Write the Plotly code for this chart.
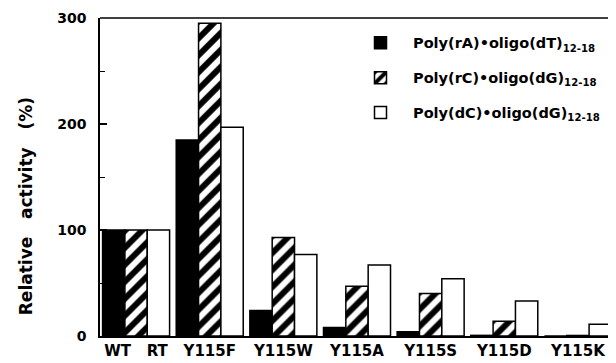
import plotly.graph_objects as go

categories = ["WT\u00a0\u00a0\u00a0RT", "Y115F", "Y115W", "Y115A", "Y115S", "Y115D", "Y115K"]
poly_rA_dT = [100, 185, 24, 8, 4, 0.6, 0]
poly_rC_dG = [100, 295, 93, 47, 40, 14, 0.5]
poly_dC_dG = [100, 197, 77, 67, 54, 33, 11]
series_names = [
    "Poly(rA)•oligo(dT)<sub>12-18</sub>",
    "Poly(rC)•oligo(dG)<sub>12-18</sub>",
    "Poly(dC)•oligo(dG)<sub>12-18</sub>",
]
y_ticks = [0, 100, 200, 300]
y_title = "Relative\u00a0\u00a0\u00a0activity\u00a0\u00a0\u00a0(%)"

FONT = "DejaVu Sans"
# page body has an 8px offset; size the figure so the window shows the full layout
OFF = 8
W, H = 616 - OFF, 363 - OFF
ML, MR, MT, MB = 100 - OFF, 2, 15 - OFF, 27
PW, PH = W - ML - MR, H - MT - MB

fig = go.Figure()
x = list(range(len(categories)))
fig.add_trace(go.Bar(
    x=x, y=poly_rA_dT, name=series_names[0], legendgroup="a",
    marker=dict(color="black", line=dict(color="black", width=1.5)),
))
fig.add_trace(go.Bar(
    x=x, y=poly_rC_dG, name=series_names[1], legendgroup="b",
    marker=dict(color="white", line=dict(color="black", width=1.5),
                pattern=dict(shape="/", fgcolor="black", bgcolor="white",
                             size=12, solidity=0.5, fillmode="replace")),
))
fig.add_trace(go.Bar(
    x=x, y=poly_dC_dG, name=series_names[2], legendgroup="c",
    marker=dict(color="white", line=dict(color="black", width=1.5)),
))

fig.update_layout(
    width=W, height=H,
    margin=dict(l=ML, r=MR, t=MT, b=MB),
    paper_bgcolor="white", plot_bgcolor="white",
    barmode="group", bargap=0.09, bargroupgap=0,
    font=dict(family=FONT, size=14, color="black", weight="bold"),
    showlegend=True,
    legend=dict(
        x=(348 - OFF - ML) / PW, y=1 - (24 - OFF - MT) / PH,
        xanchor="left", yanchor="top",
        bgcolor="rgba(0,0,0,0)", tracegroupgap=13,
        traceorder="grouped", itemwidth=55,
        font=dict(family=FONT, size=14.5, color="black", weight="bold"),
    ),
    xaxis=dict(
        tickmode="array", tickvals=x, ticktext=categories,
        range=[-0.49, 6.49], showline=True, linecolor="black", linewidth=1.5,
        ticks="", showgrid=False, zeroline=False,
        tickfont=dict(family=FONT, size=15, weight="bold"),
    ),
    yaxis=dict(
        range=[0, 300], tickvals=y_ticks, showline=True, linecolor="black",
        linewidth=1.5, ticks="inside", ticklen=7, tickwidth=1.5, tickcolor="black",
        minor=dict(dtick=50, ticks="inside", ticklen=5, tickwidth=1.2, tickcolor="black"),
        showgrid=False, zeroline=False, ticklabeloverflow="allow",
        ticklabelstandoff=9,
        tickfont=dict(family=FONT, size=14, weight="bold"),
    ),
    shapes=[dict(type="line", xref="paper", yref="paper", x0=0, x1=1, y0=1, y1=1,
                 line=dict(color="black", width=1.5))],
    annotations=[dict(
        text=y_title, textangle=-90,
        xref="paper", yref="paper",
        x=(26 - OFF - ML) / PW, y=1 - (205 - OFF - MT) / PH,
        xanchor="center", yanchor="middle", showarrow=False,
        font=dict(family=FONT, size=17, weight="bold"),
    )],
)

fig.write_html("out.html")
